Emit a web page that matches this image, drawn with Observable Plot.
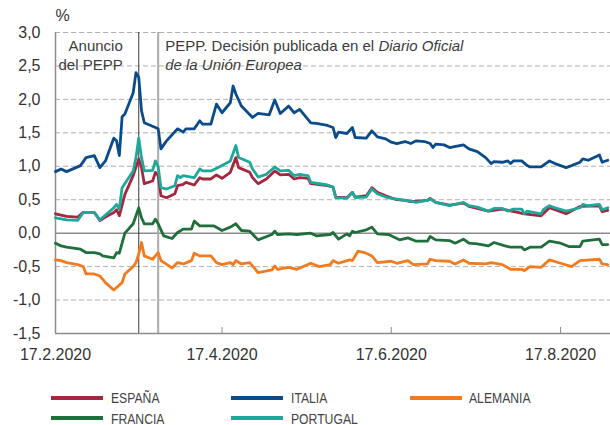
<!DOCTYPE html>
<html><head><meta charset="utf-8">
<script src="https://cdn.jsdelivr.net/npm/d3@7"></script>
<script src="https://cdn.jsdelivr.net/npm/@observablehq/plot@0.6"></script>
<style>
body{margin:0;background:#fff;}
#wrap{position:relative;width:610px;height:425px;overflow:hidden;font-family:"Liberation Sans",Arial,sans-serif;}
#wrap svg{position:absolute;left:0;top:0;}
.leg{position:absolute;font-family:"Liberation Sans Narrow","Arial Narrow","Liberation Sans",Arial,sans-serif;font-size:14.5px;line-height:14px;color:#444;white-space:nowrap;transform:scaleX(0.84);transform-origin:0 0;}
.sw{position:absolute;height:4px;width:52px;}
</style></head><body><div id="wrap"></div>
<script>
// ---- data (10-year sovereign spreads, %) ----
const countries = ["ESPAÑA", "ITALIA", "ALEMANIA", "FRANCIA", "PORTUGAL"];
const countryColors = ["#a3273f", "#0b4b8a", "#f27a1f", "#1f6f3b", "#1ea89b"];

const italiaDates = ["02-17","02-19","02-21","02-26","02-28","03-02","03-04","03-06","03-09","03-10","03-11","03-12","03-13","03-16","03-17","03-18","03-19","03-20","03-24","03-25","03-26","03-28","04-01","04-03","04-04","04-07","04-09","04-10","04-13","04-15","04-17","04-20","04-21","04-22","04-24","04-28","04-30","05-04","05-06","05-08","05-11","05-13","05-15","05-19","05-21","05-25","05-27","05-28","05-29","06-01","06-03","06-04","06-08","06-10","06-12","06-15","06-17","06-19","06-22","06-24","06-26","06-29","07-01","07-02","07-03","07-06","07-08","07-13","07-15","07-18","07-21","07-23","07-24","07-27","07-29","07-30","07-31","08-03","08-05","08-06","08-10","08-13","08-15","08-19","08-21","08-24","08-25","08-27","08-31","09-01","09-03"];
const italiaValues = [0.92,0.96,0.92,1.01,1.13,1.16,0.98,1.08,1.42,1.38,1.16,1.74,1.78,2.10,2.40,2.33,1.83,1.65,1.58,1.56,1.26,1.38,1.56,1.51,1.56,1.56,1.68,1.63,1.63,1.93,1.80,1.95,2.20,2.08,1.90,1.73,1.79,1.77,1.99,1.79,1.90,1.80,1.85,1.65,1.64,1.61,1.58,1.43,1.51,1.49,1.58,1.43,1.42,1.53,1.44,1.41,1.36,1.34,1.37,1.34,1.38,1.37,1.34,1.28,1.33,1.32,1.28,1.32,1.26,1.22,1.13,1.04,1.07,1.06,1.08,1.04,1.08,1.08,1.01,0.99,0.99,1.08,1.04,0.98,1.01,1.06,1.11,1.09,1.17,1.06,1.09];

const espanaDates = ["02-17","02-19","02-21","02-25","02-27","03-02","03-04","03-06","03-09","03-10","03-11","03-13","03-16","03-18","03-19","03-20","03-23","03-24","03-25","03-26","03-28","03-31","04-01","04-03","04-04","04-07","04-09","04-10","04-13","04-15","04-17","04-20","04-22","04-23","04-27","04-28","04-30","05-03","05-06","05-08","05-11","05-13","05-15","05-18","05-19","05-25","05-27","05-28","06-01","06-03","06-04","06-08","06-10","06-12","06-15","06-17","06-19","06-22","06-24","06-30","07-01","07-03","07-08","07-13","07-15","07-22","07-27","08-04","08-10","08-13","08-19","08-24","08-31","09-01","09-03"];
const espanaValues = [0.29,0.27,0.25,0.24,0.31,0.31,0.19,0.24,0.31,0.35,0.26,0.58,0.86,1.11,0.98,0.74,0.78,0.91,0.86,0.56,0.53,0.59,0.71,0.73,0.76,0.72,0.83,0.81,0.81,0.87,0.82,0.91,1.13,0.98,0.91,0.83,0.74,0.81,0.93,0.87,0.88,0.81,0.83,0.82,0.74,0.71,0.69,0.54,0.53,0.61,0.54,0.56,0.68,0.61,0.56,0.53,0.50,0.49,0.47,0.49,0.52,0.46,0.42,0.45,0.40,0.33,0.36,0.29,0.26,0.38,0.29,0.40,0.41,0.32,0.34];

const portugalDates = ["02-17","02-21","02-25","02-27","03-02","03-04","03-06","03-09","03-10","03-11","03-12","03-16","03-17","03-18","03-19","03-20","03-23","03-24","03-25","03-26","03-28","03-31","04-01","04-02","04-03","04-07","04-09","04-10","04-13","04-16","04-20","04-22","04-23","04-27","04-28","04-30","05-03","05-06","05-08","05-11","05-13","05-15","05-18","05-19","05-25","05-27","05-28","06-01","06-03","06-04","06-08","06-10","06-12","06-15","06-17","06-19","06-24","06-26","06-30","07-01","07-03","07-08","07-13","07-15","07-18","07-22","07-24","07-27","07-29","07-31","08-03","08-04","08-05","08-10","08-11","08-13","08-15","08-19","08-21","08-24","08-25","08-27","08-31","09-01","09-03"];
const portugalValues = [0.23,0.20,0.19,0.31,0.31,0.20,0.27,0.38,0.43,0.36,0.68,0.93,1.13,1.42,1.13,0.93,0.94,1.08,0.99,0.68,0.66,0.71,0.86,0.83,0.86,0.83,0.96,0.93,0.93,0.99,1.08,1.31,1.13,1.06,0.96,0.84,0.88,0.99,0.93,0.94,0.86,0.88,0.86,0.76,0.72,0.69,0.53,0.52,0.61,0.53,0.54,0.66,0.59,0.54,0.52,0.51,0.48,0.46,0.49,0.51,0.46,0.41,0.46,0.41,0.39,0.33,0.37,0.37,0.33,0.36,0.36,0.29,0.33,0.29,0.36,0.41,0.38,0.33,0.35,0.38,0.43,0.41,0.43,0.35,0.38];

const franciaDates = ["02-17","02-19","02-21","02-26","02-28","03-02","03-04","03-05","03-09","03-10","03-11","03-13","03-16","03-18","03-19","03-20","03-23","03-24","03-25","03-27","03-30","04-01","04-03","04-06","04-07","04-09","04-14","04-17","04-20","04-22","04-24","04-27","04-30","05-05","05-06","05-07","05-11","05-14","05-19","05-21","05-26","05-27","05-29","06-01","06-02","06-03","06-04","06-08","06-10","06-12","06-16","06-20","06-23","06-26","06-30","07-01","07-03","07-08","07-10","07-13","07-15","07-18","07-22","07-24","07-28","07-30","08-03","08-04","08-06","08-10","08-13","08-17","08-20","08-24","08-25","08-31","09-01","09-03"];
const franciaValues = [-0.15,-0.19,-0.21,-0.24,-0.29,-0.29,-0.31,-0.34,-0.37,-0.29,-0.30,0.00,0.14,0.38,0.23,0.14,0.14,0.21,0.14,-0.04,-0.08,0.01,0.06,0.06,0.18,0.11,0.11,0.04,0.09,0.14,0.04,0.03,-0.10,-0.02,0.03,-0.02,-0.01,-0.02,0.00,-0.04,-0.02,0.01,-0.09,-0.01,-0.04,0.03,0.01,0.05,0.09,-0.01,-0.02,-0.10,-0.07,-0.12,-0.12,-0.05,-0.10,-0.11,-0.15,-0.09,-0.15,-0.16,-0.19,-0.14,-0.19,-0.21,-0.21,-0.25,-0.21,-0.21,-0.12,-0.15,-0.20,-0.20,-0.12,-0.09,-0.17,-0.17];

const alemaniaDates = ["02-17","02-19","02-21","02-25","02-27","02-28","03-02","03-04","03-06","03-09","03-12","03-13","03-16","03-17","03-18","03-19","03-20","03-23","03-25","03-26","03-30","04-01","04-03","04-06","04-07","04-09","04-13","04-15","04-17","04-20","04-21","04-22","04-24","04-27","04-30","05-05","05-06","05-07","05-11","05-14","05-19","05-22","05-26","05-27","05-28","05-29","06-02","06-03","06-05","06-08","06-10","06-12","06-17","06-19","06-23","06-25","06-30","07-01","07-03","07-08","07-10","07-13","07-15","07-21","07-23","07-27","07-30","08-03","08-04","08-06","08-10","08-13","08-17","08-21","08-24","08-31","09-01","09-03"];
const alemaniaValues = [-0.40,-0.41,-0.44,-0.47,-0.50,-0.61,-0.61,-0.64,-0.74,-0.85,-0.74,-0.61,-0.50,-0.44,-0.31,-0.14,-0.34,-0.39,-0.29,-0.41,-0.52,-0.44,-0.46,-0.41,-0.30,-0.34,-0.34,-0.44,-0.47,-0.44,-0.47,-0.41,-0.46,-0.44,-0.59,-0.55,-0.49,-0.54,-0.51,-0.54,-0.45,-0.50,-0.47,-0.41,-0.43,-0.45,-0.40,-0.41,-0.27,-0.30,-0.34,-0.44,-0.42,-0.45,-0.41,-0.47,-0.46,-0.39,-0.41,-0.42,-0.46,-0.40,-0.45,-0.46,-0.44,-0.47,-0.54,-0.54,-0.56,-0.50,-0.51,-0.40,-0.45,-0.50,-0.41,-0.39,-0.46,-0.47];

const xTickDates = ["02-17", "04-17", "06-17", "08-17"];
const yTickValues = [-1.5, -1.0, -0.5, 0, 0.5, 1.0, 1.5, 2.0, 2.5, 3.0];
const eventDates = ["03-18", "03-25"];
const eventLabels = ["Anuncio\ndel PEPP", "PEPP. Decisión publicada en el Diario Oficial\nde la Unión Europea"];
const italicParts = ["Diario Oficial", "de la Unión Europea"];
const domainDates = ["02-17", "09-04"];

// ---- build table ----
const parse = s => new Date("2020-" + s + "T00:00:00Z");
const seriesList = [
  ["ALEMANIA", alemaniaDates, alemaniaValues],
  ["FRANCIA", franciaDates, franciaValues],
  ["ESPAÑA", espanaDates, espanaValues],
  ["PORTUGAL", portugalDates, portugalValues],
  ["ITALIA", italiaDates, italiaValues]
];
const rows = [];
for (const [name, ds, vs] of seriesList) {
  const n = Math.min(ds.length, vs.length);
  for (let i = 0; i < n; i++) rows.push({pais: name, date: parse(ds[i]), value: vs[i]});
}
const fmtY = v => v.toFixed(1).replace(".", ",");

const plot = Plot.plot({
  width: 610, height: 370,
  marginTop: 32, marginBottom: 37, marginLeft: 55, marginRight: 0,
  style: {fontFamily: "'Liberation Sans', Arial, sans-serif", fontSize: "16px", color: "#333", background: "transparent", overflow: "visible"},
  x: {type: "utc", domain: domainDates.map(parse), ticks: xTickDates.map(parse), tickFormat: d3.utcFormat("%-d.%-m.%Y"), tickSize: 0, tickPadding: 15, label: null},
  y: {domain: [-1.5, 3], ticks: yTickValues, tickFormat: fmtY, tickSize: 0, tickPadding: 15, label: null},
  color: {domain: countries, range: countryColors},
  marks: [
    Plot.ruleY(yTickValues.filter(v => v !== 0 && v !== -1.5), {stroke: "#b0b0b0", strokeWidth: 1, strokeDasharray: "5,3"}),
    Plot.ruleY([0], {stroke: "#8c8c8c", strokeWidth: 1.5}),
    Plot.ruleX([parse(eventDates[1])], {stroke: "#ababab", strokeWidth: 2}),
    Plot.ruleX([parse(eventDates[0])], {stroke: "#3a3a3a", strokeWidth: 1}),
    Plot.ruleY([-1.5], {stroke: "#8c8c8c", strokeWidth: 1.5}),
    Plot.ruleX([parse(domainDates[0])], {stroke: "#8c8c8c", strokeWidth: 1.5}),
    Plot.ruleX(xTickDates.slice(1).map(parse), {y1: -1.5, y2: -1.5, insetTop: -6, stroke: "#8c8c8c", strokeWidth: 1}),
    Plot.line(rows, {x: "date", y: "value", z: "pais", stroke: "pais", strokeWidth: 2.8, strokeLinejoin: "round", strokeLinecap: "round"}),
    Plot.text([0], {x: () => parse(eventDates[0]), text: () => eventLabels[0], frameAnchor: "top", textAnchor: "end", lineAnchor: "top", dx: -16, dy: 5, fontSize: 15, lineHeight: 1.27, fill: "#3c3c3c"}),
    Plot.text([0], {x: () => parse(eventDates[1]), text: () => eventLabels[1], frameAnchor: "top", textAnchor: "start", lineAnchor: "top", dx: 7, dy: 5, fontSize: 15, lineHeight: 1.27, fill: "#3c3c3c"}),
    Plot.text([0], {text: () => "%", frameAnchor: "top-left", textAnchor: "start", lineAnchor: "bottom", dy: -12, fontSize: 16, fill: "#333"})
  ]
});

// Italic parts of the second annotation (text stays real text)
d3.select(plot).selectAll("tspan").each(function() {
  const t = d3.select(this);
  const s = t.text();
  for (const part of italicParts) {
    const k = s.indexOf(part);
    if (k === 0 && s === part) { t.attr("font-style", "italic"); }
    else if (k > 0) {
      t.text(s.slice(0, k));
      t.append("tspan").attr("font-style", "italic").text(part);
    }
  }
});
d3.select(plot).selectAll("text").style("white-space", "pre");

const wrap = document.getElementById("wrap");
wrap.appendChild(plot);

// ---- legend (HTML, below the SVG) ----
const legendLayout = [
  {name: "ESPAÑA", sx: 51, tx: 111, row: 0},
  {name: "ITALIA", sx: 231, tx: 291, row: 0},
  {name: "ALEMANIA", sx: 410, tx: 469, row: 0},
  {name: "FRANCIA", sx: 51, tx: 111, row: 1},
  {name: "PORTUGAL", sx: 231, tx: 291, row: 1}
];
const rowSwatchTop = [396, 416.3];
const rowTextTop = [391, 411.5];
for (const it of legendLayout) {
  const c = countryColors[countries.indexOf(it.name)];
  const sw = document.createElement("div");
  sw.className = "sw";
  sw.style.left = it.sx + "px"; sw.style.top = rowSwatchTop[it.row] + "px"; sw.style.background = c;
  wrap.appendChild(sw);
  const tx = document.createElement("div");
  tx.className = "leg";
  tx.style.left = it.tx + "px"; tx.style.top = rowTextTop[it.row] + "px";
  tx.textContent = it.name;
  wrap.appendChild(tx);
}
</script></body></html>
